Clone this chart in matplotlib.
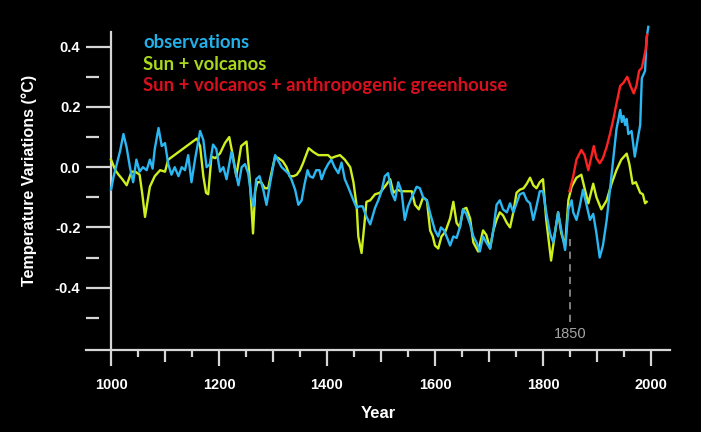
import matplotlib
matplotlib.use('Agg')
import matplotlib.pyplot as plt
from matplotlib.ticker import FixedLocator, NullFormatter

# ---------------- data ----------------
obs_years = [1000, 1005, 1010, 1017, 1023, 1029, 1035, 1041, 1047, 1053, 1059, 1066, 1072, 1077,
             1081, 1088, 1094, 1100, 1106, 1112, 1118, 1125, 1131, 1137, 1143, 1149, 1156, 1165,
             1171, 1177, 1183, 1189, 1195, 1202, 1208, 1214, 1220, 1223, 1229, 1236, 1242, 1248,
             1254, 1260, 1264, 1269, 1275, 1282, 1288, 1294, 1304, 1310, 1316, 1322, 1328, 1334,
             1341, 1347, 1353, 1358, 1364, 1368, 1374, 1380, 1386, 1390, 1396, 1402, 1408, 1414,
             1421, 1427, 1433, 1439, 1449, 1455, 1460, 1466, 1472, 1480, 1489, 1495, 1501, 1507,
             1513, 1520, 1526, 1532, 1538, 1544, 1550, 1557, 1566, 1572, 1578, 1585, 1592, 1600,
             1606, 1611, 1617, 1628, 1634, 1640, 1646, 1652, 1658, 1665, 1671, 1677, 1683, 1689,
             1695, 1702, 1708, 1714, 1720, 1726, 1733, 1739, 1745, 1751, 1757, 1764, 1770, 1776,
             1782, 1788, 1794, 1800, 1806, 1813, 1819, 1825, 1828, 1834, 1841, 1847, 1853, 1856,
             1862, 1868, 1874, 1880, 1887, 1893, 1899, 1905, 1911, 1918, 1924, 1930, 1936, 1943,
             1946, 1949, 1952, 1955, 1958, 1964, 1970, 1976, 1980, 1983, 1989, 1992, 1995]
obs_vals = [-0.075, -0.03, 0.005, 0.055, 0.11, 0.065, 0.0, -0.05, 0.025, -0.015, 0.0, -0.01, 0.025, -0.005,
            0.06, 0.13, 0.07, 0.08, 0.01, -0.025, 0.0, -0.03, 0.0, -0.01, 0.04, -0.05, 0.03, 0.12,
            0.09, 0.0, 0.01, 0.075, 0.06, -0.015, 0.0, -0.04, 0.02, 0.05, 0.0, -0.06, 0.0, 0.01,
            -0.02, -0.1, -0.13, -0.04, -0.03, -0.075, -0.125, -0.06, 0.04, 0.02, 0.0, -0.01, -0.02, -0.04,
            -0.075, -0.125, -0.11, -0.06, -0.01, -0.03, -0.035, -0.01, -0.01, -0.04, -0.01, 0.01, 0.025, 0.0,
            -0.02, 0.015, -0.04, -0.065, -0.11, -0.135, -0.13, -0.13, -0.16, -0.19, -0.135, -0.11, -0.08, -0.03,
            -0.02, -0.085, -0.11, -0.05, -0.08, -0.175, -0.13, -0.1, -0.065, -0.07, -0.1, -0.11, -0.16, -0.21,
            -0.23, -0.2, -0.21, -0.26, -0.23, -0.235, -0.2, -0.14, -0.155, -0.19, -0.23, -0.25, -0.28, -0.23,
            -0.25, -0.27, -0.21, -0.125, -0.11, -0.14, -0.15, -0.12, -0.15, -0.12, -0.09, -0.085, -0.11, -0.12,
            -0.175, -0.13, -0.08, -0.08, -0.15, -0.22, -0.25, -0.185, -0.15, -0.21, -0.275, -0.14, -0.11, -0.15,
            -0.175, -0.13, -0.075, -0.12, -0.175, -0.155, -0.22, -0.30, -0.26, -0.175, -0.075, 0.025, 0.125, 0.19,
            0.15, 0.17, 0.14, 0.16, 0.11, 0.12, 0.035, 0.10, 0.14, 0.295, 0.32, 0.43, 0.466]

sv_years = [1000, 1008, 1014, 1021, 1029, 1038, 1045, 1053, 1058, 1063, 1068, 1072, 1081, 1091,
            1100, 1106, 1159, 1165, 1171, 1176, 1180, 1186, 1193, 1202, 1211, 1219, 1226, 1232,
            1241, 1251, 1257, 1263, 1267, 1271, 1278, 1285, 1291, 1297, 1304, 1310, 1318, 1325,
            1331, 1338, 1344, 1350, 1356, 1366, 1375, 1384, 1396, 1402, 1408, 1415, 1424, 1433,
            1443, 1449, 1455, 1458, 1464, 1470, 1473, 1480, 1489, 1498, 1507, 1517, 1523, 1530,
            1538, 1557, 1563, 1570, 1578, 1585, 1591, 1596, 1600, 1606, 1612, 1619, 1628, 1634,
            1640, 1646, 1652, 1658, 1665, 1671, 1680, 1689, 1695, 1702, 1708, 1714, 1720, 1726,
            1733, 1739, 1745, 1751, 1757, 1764, 1770, 1776, 1782, 1788, 1794, 1800, 1806, 1815,
            1822, 1828, 1834, 1841, 1847, 1853, 1862, 1871, 1877, 1884, 1893, 1899, 1908, 1918,
            1927, 1936, 1945, 1955, 1960, 1966, 1972, 1980, 1985, 1989, 1992]
sv_vals = [0.025, -0.01, -0.025, -0.04, -0.06, -0.015, -0.015, -0.025, -0.09, -0.165, -0.11, -0.065, -0.03, -0.01,
           -0.015, 0.025, 0.095, 0.07, -0.03, -0.085, -0.09, 0.035, 0.03, 0.046, 0.08, 0.1, 0.035, -0.03,
           0.07, 0.085, -0.04, -0.22, -0.08, -0.05, -0.05, -0.07, -0.07, -0.02, 0.035, 0.03, 0.02, 0.0,
           -0.03, -0.03, -0.025, -0.01, 0.015, 0.063, 0.05, 0.04, 0.04, 0.04, 0.03, 0.035, 0.04, 0.025,
           0.0, -0.05, -0.13, -0.23, -0.285, -0.175, -0.115, -0.11, -0.09, -0.085, -0.065, -0.04, -0.085, -0.075,
           -0.08, -0.08, -0.125, -0.14, -0.1, -0.11, -0.21, -0.23, -0.26, -0.27, -0.23, -0.215, -0.17, -0.115,
           -0.185, -0.2, -0.14, -0.135, -0.17, -0.25, -0.28, -0.21, -0.225, -0.27, -0.21, -0.175, -0.15, -0.16,
           -0.185, -0.2, -0.15, -0.085, -0.075, -0.07, -0.055, -0.035, -0.06, -0.07, -0.05, -0.04, -0.175, -0.31,
           -0.22, -0.15, -0.22, -0.26, -0.11, -0.065, -0.035, -0.025, -0.07, -0.12, -0.055, -0.1, -0.14, -0.11,
           -0.055, -0.01, 0.025, 0.045, 0.01, -0.055, -0.05, -0.085, -0.09, -0.12, -0.115]

ant_years = [1849, 1856, 1862, 1871, 1877, 1884, 1889, 1894, 1899, 1905, 1911, 1918, 1924, 1930,
             1936, 1943, 1949, 1956, 1962, 1968, 1973, 1978, 1983, 1986, 1990, 1993]
ant_vals = [-0.08, -0.03, 0.025, 0.057, 0.04, -0.01, 0.03, 0.07, 0.03, 0.013, 0.03, 0.068, 0.11, 0.157,
            0.21, 0.27, 0.28, 0.30, 0.27, 0.245, 0.27, 0.32, 0.33, 0.355, 0.39, 0.44]

legend_labels = ['observations', 'Sun + volcanos', 'Sun + volcanos + anthropogenic greenhouse']
x_major = [1000, 1200, 1400, 1600, 1800, 2000]
x_mid = [1100, 1300, 1500, 1700, 1900]
x_minor = [1050, 1150, 1250, 1350, 1450, 1550, 1650, 1750, 1850, 1950]
y_major = [0.4, 0.2, 0.0, -0.2, -0.4]
y_minor = [0.3, 0.1, -0.1, -0.3, -0.5]
marker_year = 1850

# ---------------- style ----------------
c_obs = '#2BB7F2'
c_sv = '#CFEF1E'
c_ant = '#FF2222'
t_obs = '#22B0E8'
t_sv = '#A9D81C'
t_ant = '#D8101E'
axis_c = '#D6D6D6'

fig = plt.figure(figsize=(7.01, 4.32), dpi=100, facecolor='black')
ax = fig.add_axes([86 / 701, 1 - 350 / 432, (670 - 86) / 701, 330 / 432])
ax.set_facecolor('black')
ax.set_xlim(953.7, 2035.2)
ax.set_ylim(-0.607, 0.4886)

for s in ['top', 'right', 'left']:
    ax.spines[s].set_visible(False)
ax.spines['bottom'].set_color(axis_c)
ax.spines['bottom'].set_linewidth(1.6)

# y axis line at year 1000
ax.plot([1000, 1000], [-0.607, 0.449], color=axis_c, lw=1.6, clip_on=False, zorder=3)

ax.plot(sv_years, sv_vals, color=c_sv, lw=1.7, zorder=4)
ax.plot(obs_years, obs_vals, color=c_obs, lw=1.7, zorder=5)
ax.plot(ant_years, ant_vals, color=c_ant, lw=1.7, zorder=6)

# 1850 marker
ax.plot([marker_year, marker_year], [-0.515, -0.24], color='#8A8A8A', lw=1.3,
        ls=(0, (4, 3)), zorder=2)
ax.text(marker_year, -0.553, '1850', color='#A4A4A4', ha='center', va='center',
        fontsize=10.5, family='Liberation Sans')

# x ticks
ax.xaxis.set_major_locator(FixedLocator(x_major))
ax.xaxis.set_minor_locator(FixedLocator(x_minor))
ax.set_xticklabels([str(v) for v in x_major])
ax.tick_params(axis='x', which='major', direction='out', length=11.5, width=1.6,
               color=axis_c, labelcolor='white', labelsize=10.5, pad=8.5)
ax.tick_params(axis='x', which='minor', direction='out', length=5, width=1.6, color=axis_c)
sec = ax.secondary_xaxis('bottom')
sec.spines['bottom'].set_visible(False)
sec.xaxis.set_major_locator(FixedLocator(x_mid))
sec.xaxis.set_major_formatter(NullFormatter())
sec.tick_params(axis='x', which='major', direction='out', length=8.5, width=1.6, color=axis_c)

# y ticks
ax.yaxis.set_major_locator(FixedLocator(y_major))
ax.yaxis.set_minor_locator(FixedLocator(y_minor))
ax.set_yticklabels([f'{v:.1f}' for v in y_major])
ax.tick_params(axis='y', which='major', direction='in', length=18, width=1.6,
               color=axis_c, labelcolor='white', labelsize=10.5, pad=4)
ax.tick_params(axis='y', which='minor', direction='in', length=9.3, width=1.6, color=axis_c)

for lbl in ax.get_xticklabels() + ax.get_yticklabels():
    lbl.set_fontweight('bold')
    lbl.set_family('Liberation Sans')

ax.set_xlabel('Year', color='white', fontsize=12, fontweight='bold', family='Liberation Sans',
              labelpad=10)
fig.text(29 / 701, 1 - 180 / 432, 'Temperature Variations (°C)', rotation=90, color='white',
         fontsize=11.6, fontweight='bold', family='Liberation Sans', ha='center', va='center')

# legend text
for i, (lab, col) in enumerate(zip(legend_labels, [t_obs, t_sv, t_ant])):
    fig.text(143 / 701, 1 - (43 + 21.3 * i) / 432, lab, color=col, fontsize=13.3,
             fontweight='bold', family='Lato', ha='left', va='center')

fig.savefig('out.png', dpi=100, facecolor='black')
